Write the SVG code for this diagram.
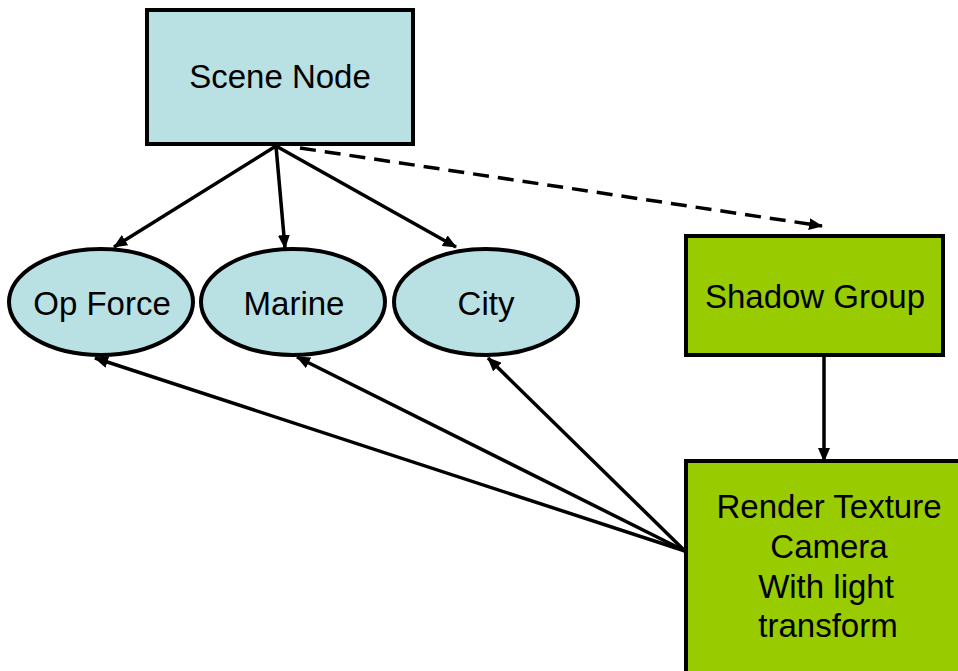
<svg xmlns="http://www.w3.org/2000/svg" width="958" height="671" viewBox="0 0 958 671">
<style>
.box{stroke:#000;stroke-width:4}
.blue{fill:#B9E0E3}
.green{fill:#99CC00}
.t{font-family:"Liberation Sans",Arial,sans-serif;font-size:33px;fill:#000;text-anchor:middle}
.c{stroke:#000;stroke-width:3.5;fill:none}
.d{stroke-dasharray:16 9}
</style>
<defs>
<marker id="ah" viewBox="0 0 14 12" refX="13" refY="6" markerWidth="14" markerHeight="12" markerUnits="userSpaceOnUse" orient="auto">
<path d="M0,0 L14,6 L0,12 Z" fill="#000"/>
</marker>
</defs>
<rect width="958" height="671" fill="#fff"/>
<g id="connectors">
<line class="c" x1="276" y1="146" x2="114" y2="247" marker-end="url(#ah)"/>
<line class="c" x1="276" y1="146" x2="285" y2="248" marker-end="url(#ah)"/>
<line class="c" x1="276" y1="146" x2="456" y2="247" marker-end="url(#ah)"/>
<line class="c d" x1="300" y1="148" x2="822" y2="226" marker-end="url(#ah)"/>
<line class="c" x1="824" y1="355" x2="824" y2="461" marker-end="url(#ah)"/>
<line class="c" x1="685" y1="551" x2="95" y2="358" marker-end="url(#ah)"/>
<line class="c" x1="685" y1="551" x2="297" y2="357" marker-end="url(#ah)"/>
<line class="c" x1="685" y1="551" x2="488" y2="358" marker-end="url(#ah)"/>
</g>
<g id="scene-node">
<rect class="box blue" x="147" y="10" width="266" height="134"/>
<text class="t" x="280" y="88">Scene Node</text>
</g>
<g id="op-force">
<ellipse class="box blue" cx="101" cy="302" rx="92" ry="53"/>
<text class="t" x="102" y="315">Op Force</text>
</g>
<g id="marine">
<ellipse class="box blue" cx="293" cy="302" rx="92" ry="53"/>
<text class="t" x="294" y="315">Marine</text>
</g>
<g id="city">
<ellipse class="box blue" cx="486" cy="302" rx="92" ry="53"/>
<text class="t" x="486" y="315">City</text>
</g>
<g id="shadow-group">
<rect class="box green" x="686" y="236" width="257" height="119"/>
<text class="t" x="815" y="308">Shadow Group</text>
</g>
<g id="render-texture">
<rect class="box green" x="686" y="461" width="280" height="220"/>
<text class="t" x="829" y="518">Render Texture</text>
<text class="t" x="829" y="558">Camera</text>
<text class="t" x="826" y="598">With light</text>
<text class="t" x="828" y="637">transform</text>
</g>
</svg>
